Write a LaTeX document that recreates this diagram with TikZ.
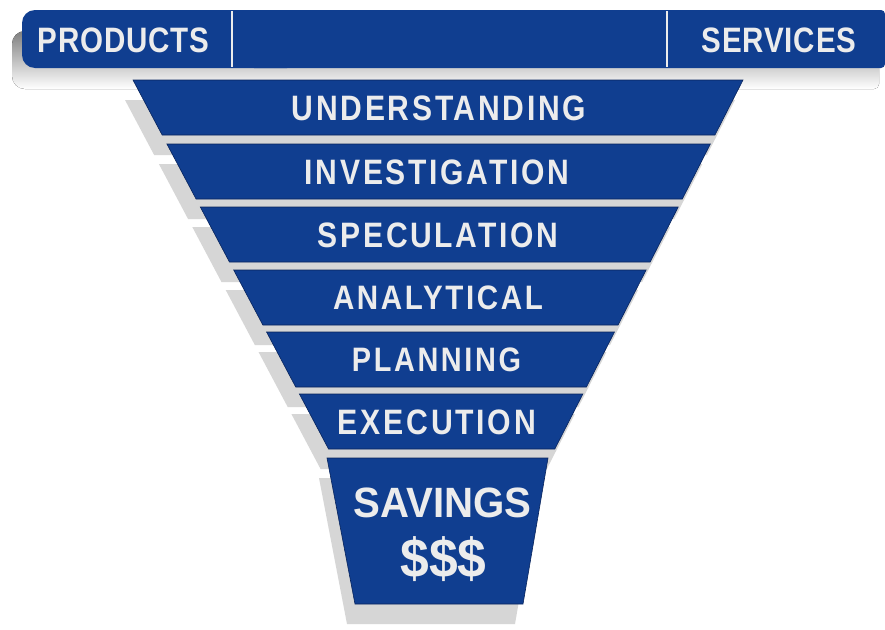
\documentclass[tikz,border=0pt]{standalone}
\usepackage{fontspec}
\setmainfont{Liberation Sans}
\newfontfamily\spacedsans[LetterSpace=9]{Liberation Sans}
\newfontfamily\headsans[LetterSpace=3]{Liberation Sans}
\usepackage{graphicx}

\definecolor{funnelblue}{RGB}{16,62,144}
\definecolor{funneledge}{RGB}{8,36,92}
\definecolor{shade}{RGB}{214,214,214}
\definecolor{labelgray}{RGB}{236,236,236}

% set a bold caps label to an exact width and height
\newcommand{\fitlabel}[4]{\resizebox*{#1}{#2}{#3\bfseries #4}}

\tikzset{
  lbl/.style={inner sep=0pt, text=labelgray, anchor=center},
  band/.style={fill=funnelblue, draw=funneledge, line width=0.6pt},
  bandshadow/.style={fill=shade},
  divider/.style={draw=labelgray, line width=2.5pt}
}

\begin{document}
\begin{tikzpicture}[x=1pt,y=-1pt]
\useasboundingbox (0,0) rectangle (885,629);
\fill[white] (0,0) rectangle (885,629);
\clip (0,0) rectangle (885,629);

% header bar shadow
\fill[shade, rounded corners=13pt] (12,31) rectangle (300,89);
\fill[shade, rounded corners=5pt] (250,31) rectangle (879,89);

% funnel band shadows
\foreach \t in {80,144,207,270,332,394}{
  \pgfmathsetmacro\b{\t+55}
  \pgfmathsetmacro\lt{133+0.53*(\t-80)}
  \pgfmathsetmacro\lb{133+0.53*(\b-80)}
  \pgfmathsetmacro\rt{743-0.51*(\t-80)}
  \pgfmathsetmacro\rb{743-0.51*(\b-80)}
  \fill[bandshadow] (\lt-8,\t+20) -- (\rt-8,\t+20) -- (\rb-8,\b+20) -- (\lb-8,\b+20) -- cycle;
}
\fill[bandshadow] (319,478) -- (540,478) -- (515,624) -- (347,624) -- cycle;

% header bar
\fill[funnelblue, rounded corners=13pt] (22,10) rectangle (300,68);
\fill[funnelblue, rounded corners=4pt] (250,10) rectangle (885,68);
\draw[divider] (232,11) -- (232,67);
\draw[divider] (667,11) -- (667,67);
\node[lbl] (products) at (123.5,40.5) {\fitlabel{172pt}{25pt}{\headsans}{PRODUCTS}};
\node[lbl] (services) at (779,40.5) {\fitlabel{155pt}{25pt}{\headsans}{SERVICES}};

% funnel bands with their labels
\foreach \t/\cx/\w/\h/\txt [count=\i] in {
    80/439/294/25/UNDERSTANDING,
    144/437/264/25/INVESTIGATION,
    207/438/240/25/SPECULATION,
    270/438/210/24/ANALYTICAL,
    332/436.5/169/24/PLANNING,
    394/437/198/25/EXECUTION}{
  \pgfmathsetmacro\b{\t+55}
  \pgfmathsetmacro\lt{133+0.53*(\t-80)}
  \pgfmathsetmacro\lb{133+0.53*(\b-80)}
  \pgfmathsetmacro\rt{743-0.51*(\t-80)}
  \pgfmathsetmacro\rb{743-0.51*(\b-80)}
  \pgfmathsetmacro\cy{(\t+\b)/2+0.5}
  \path[band] (\lt,\t) -- (\rt,\t) -- (\rb,\b) -- (\lb,\b) -- cycle;
  \node[lbl] (stage\i) at (\cx,\cy) {\fitlabel{\w pt}{\h pt}{\spacedsans}{\txt}};
}

% outcome block
\path[band] (327,458) -- (548,458) -- (523,604) -- (355,604) -- cycle;
\node[lbl] (savings) at (442.5,503) {\fitlabel{178pt}{30pt}{}{SAVINGS}};
\node[lbl] (dollars) at (443.5,559) {\fitlabel{86pt}{45pt}{}{\$\$\$}};
\end{tikzpicture}
\end{document}
